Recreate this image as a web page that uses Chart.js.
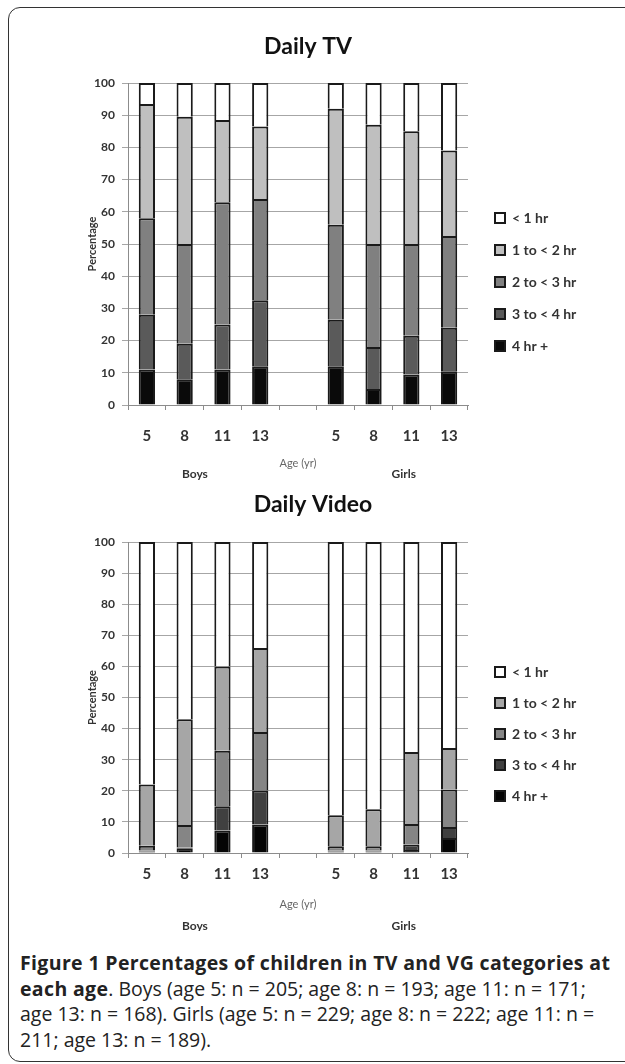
<!DOCTYPE html>
<html>
<head>
<meta charset="utf-8">
<script src="https://cdn.jsdelivr.net/npm/chart.js@4.4.0/dist/chart.umd.min.js"></script>
<style>
  body { margin: 0; background: #fff; }
  #page { position: relative; width: 625px; height: 1064px; overflow: hidden; background: #fff; }
  #frame { position: absolute; left: 8px; top: 7px; width: 660px; height: 1055px; border: 1.5px solid #333;
           border-radius: 12px; box-sizing: border-box; }
  .box { position: absolute; left: 0; width: 625px; }
  #tvBox { top: 0; height: 490px; }
  #vgBox { top: 490px; height: 441px; }
  #caption { position: absolute; left: 20px; top: 950px; font-family: 'Open Sans', sans-serif; font-size: 19.5px;
             line-height: 25.7px; color: #222; white-space: nowrap; }
  #caption b { font-weight: bold; letter-spacing: 0.35px; }
</style>
</head>
<body>
<div id="page">
  <div id="frame"></div>
  <div class="box" id="tvBox"><canvas id="tvChart"></canvas></div>
  <div class="box" id="vgBox"><canvas id="vgChart"></canvas></div>
  <div id="caption">
    <div><b>Figure 1 Percentages of children in TV and VG categories at</b></div>
    <div><b>each age</b>. Boys (age 5: n = 205; age 8: n = 193; age 11: n = 171;</div>
    <div>age 13: n = 168). Girls (age 5: n = 229; age 8: n = 222; age 11: n =</div>
    <div>211; age 13: n = 189).</div>
  </div>
</div>
<script>
// categories: boys 5-13, an empty gap slot, girls 5-13
const AGES     = ['5', '8', '11', '13', '', '5', '8', '11', '13'];
const GROUPS   = ['Boys', 'Girls'];
const GROUP_AT = [1.27, 6.8];   // position on the category axis
const BANDS    = ['4 hr +', '3 to < 4 hr', '2 to < 3 hr', '1 to < 2 hr', '< 1 hr'];

// Daily TV (%), bottom band first
const tv4plus = [11, 8, 11, 12, null, 12, 5, 9.5, 10.5];
const tv3to4  = [17, 11, 14, 20.5, null, 14.5, 13, 12, 13.5];
const tv2to3  = [30, 31, 38, 31.5, null, 29.5, 32, 28.5, 28.5];
const tv1to2  = [35.5, 39.5, 25.5, 22.5, null, 36, 37, 35, 26.5];
const tvLt1   = [6.5, 10.5, 11.5, 13.5, null, 8, 13, 15, 21];

// Daily Video (%), bottom band first
const vg4plus = [0.5, 1.5, 7.2, 9.2, null, 0.5, 0.5, 1, 4.8];
const vg3to4  = [0.3, 0.3, 7.8, 10.9, null, 0.3, 0.3, 1.7, 3.6];
const vg2to3  = [1.5, 7.2, 17.9, 18.8, null, 1.4, 1.4, 6.6, 12];
const vg1to2  = [19.7, 34, 27.1, 27, null, 9.9, 11.9, 23.2, 13.4];
const vgLt1   = [78, 57, 40, 34.1, null, 87.9, 85.9, 67.5, 66.2];

const TV_COLORS = ['#0a0a0a', '#5a5a5a', '#808080', '#bfbfbf', '#ffffff'];
const VG_COLORS = ['#050505', '#404040', '#858585', '#a6a6a6', '#ffffff'];

Chart.defaults.font.family = 'Lato, sans-serif';

// Excel puts the legend lower than centre and the title right of the plot centre
const nudge = {
  id: 'nudge',
  afterLayout(chart, args, opts) {
    const l = chart.legend;
    l.left += opts.legendDx; l.right += opts.legendDx;
    l.top += opts.legendDy;  l.bottom += opts.legendDy;
    const t = chart.titleBlock;
    t.left += opts.titleDx; t.right += opts.titleDx;
  },
};

// "Boys" / "Girls" under the axis title
const groupLabels = {
  id: 'groupLabels',
  afterDraw(chart, args, opts) {
    const { ctx, chartArea, scales } = chart;
    ctx.save();
    ctx.font = 'bold 12px Lato, sans-serif';
    ctx.fillStyle = '#333';
    ctx.textAlign = 'center';
    ctx.textBaseline = 'middle';
    GROUPS.forEach((g, i) => ctx.fillText(g, scales.x.getPixelForValue(GROUP_AT[i]), chartArea.bottom + opts.offset));
    ctx.restore();
  },
};

function makeChart(id, title, series, colors, o) {
  const datasets = series.map((data, i) => ({
    label: BANDS[i],
    data,
    backgroundColor: colors[i],
    borderColor: '#1a1a1a',
    borderWidth: 2,
    barPercentage: 0.43,
    categoryPercentage: 1,
  }));

  return new Chart(document.getElementById(id), {
    type: 'bar',
    data: { labels: AGES, datasets },
    options: {
      responsive: true, maintainAspectRatio: false, animation: false,
      layout: { padding: { left: 0, right: 57, top: 0, bottom: 10 } },
      plugins: {
        title: {
          display: true, text: title, color: '#111',
          font: { size: 23, weight: 'bold' },
          padding: o.titlePad,
        },
        legend: {
          position: 'right', reverse: true, fullSize: false, maxWidth: 100,
          labels: { boxWidth: 10, boxHeight: 10, padding: o.legendGap, color: '#333', font: { size: 14, weight: 'bold' } },
        },
        tooltip: { enabled: false },
        // legend box should start ~27px right of the plot
        nudge: { legendDx: 27 - o.legendGap, legendDy: o.legendDy, titleDx: o.titleDx },
        groupLabels: { offset: o.groupOffset },
      },
      scales: {
        x: {
          stacked: true,
          grid: { drawOnChartArea: false, color: '#8c8c8c', tickLength: 5 },
          border: { color: '#8c8c8c' },
          ticks: { color: '#333', font: { size: 15, weight: 'bold' }, padding: o.tickPad },
          title: { display: true, text: 'Age (yr)', color: '#666', font: { size: 11 }, padding: { top: 0, bottom: 10 } },
          afterFit: s => { s.height = o.xHeight; },
        },
        y: {
          stacked: true, min: 0, max: 100,
          grid: { color: '#a6a6a6', tickLength: 6 },
          border: { color: '#8c8c8c' },
          ticks: { stepSize: 10, color: '#333', font: { size: 12, weight: 'bold' }, padding: 7 },
          title: { display: true, text: 'Percentage', color: '#333', font: { size: 11, weight: 'bold' }, padding: { top: 86, bottom: 0 } },
          afterFit: s => { s.width = 128; },
        },
      },
    },
    plugins: [nudge, groupLabels],
  });
}

makeChart('tvChart', 'Daily TV', [tv4plus, tv3to4, tv2to3, tv1to2, tvLt1], TV_COLORS, {
  titlePad: { top: 33.2, bottom: 22.2 }, titleDx: 24,
  tickPad: 17, xHeight: 75,
  legendGap: 18, legendDy: 38, groupOffset: 69,
});

makeChart('vgChart', 'Daily Video', [vg4plus, vg3to4, vg2to3, vg1to2, vgLt1], VG_COLORS, {
  titlePad: { top: 1.2, bottom: 23.2 }, titleDx: 29,
  tickPad: 7, xHeight: 68,
  legendGap: 17, legendDy: 36.5, groupOffset: 73,
});
</script>
</body>
</html>
